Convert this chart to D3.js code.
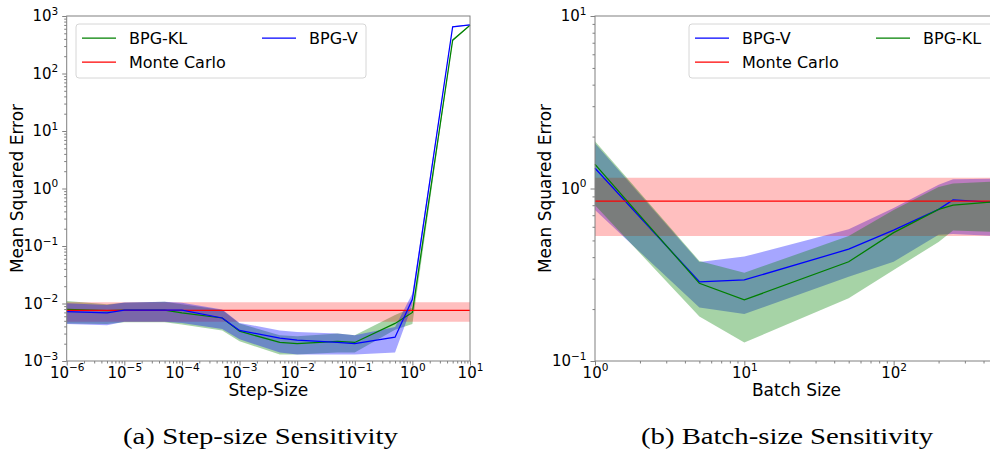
<!DOCTYPE html>
<html>
<head>
<meta charset="utf-8">
<style>
  body { margin: 0; background: #fff; }
  text { font-family: "DejaVu Sans", sans-serif; fill: #000; }
</style>
</head>
<body>
<svg width="990" height="453"></svg>
<script src="https://d3js.org/d3.v7.min.js"></script>
<script>

// (a) step-size sensitivity
var stepSizes = [1e-6, 5e-6, 1e-5, 5e-5, 1e-4, 5e-4, 1e-3, 5e-3, 1e-2, 5e-2, 1e-1, 5e-1, 1, 5, 10];
var stepKL    = [0.0079, 0.0075, 0.0077, 0.0077, 0.0069, 0.0056, 0.0033, 0.0021, 0.0020, 0.0022, 0.0021, 0.0045, 0.0070, 380, 690];
var stepKLLo  = [0.0045, 0.0044, 0.0047, 0.0047, 0.0043, 0.0034, 0.0022, 0.0013, 0.0013, 0.0014, 0.0014, 0.0035, 0.0044, 365, 680];
var stepKLHi  = [0.0110, 0.0097, 0.0103, 0.0107, 0.0097, 0.0077, 0.0045, 0.0028, 0.0027, 0.0030, 0.0028, 0.0063, 0.0085, 395, 700];
var stepV     = [0.0072, 0.0069, 0.0077, 0.0077, 0.0077, 0.0056, 0.0034, 0.0025, 0.0023, 0.0021, 0.0020, 0.0026, 0.0118, 650, 700];
var stepVLo   = [0.0044, 0.0042, 0.0048, 0.0048, 0.0046, 0.0036, 0.0024, 0.0014, 0.0013, 0.0013, 0.0013, 0.0014, 0.0095, 635, 690];
var stepVHi   = [0.0101, 0.0094, 0.0104, 0.0107, 0.0103, 0.0079, 0.0046, 0.0034, 0.0032, 0.0030, 0.0028, 0.0039, 0.0150, 665, 710];
var stepMC = 0.0076, stepMCLo = 0.0048, stepMCHi = 0.0105;

// (b) batch-size sensitivity
var batchSizes = [1, 5, 10, 50, 100, 200, 250, 500];
var batchV     = [1.31, 0.288, 0.295, 0.445, 0.574, 0.757, 0.858, 0.83];
var batchVLo   = [0.75, 0.204, 0.187, 0.308, 0.376, 0.54, 0.545, 0.53];
var batchVHi   = [1.83, 0.375, 0.403, 0.58, 0.77, 1.05, 1.13, 1.14];
var batchKL    = [1.38, 0.282, 0.226, 0.376, 0.555, 0.757, 0.80, 0.84];
var batchKLLo  = [0.80, 0.181, 0.128, 0.231, 0.337, 0.49, 0.57, 0.56];
var batchKLHi  = [1.88, 0.38, 0.325, 0.53, 0.75, 1.02, 1.07, 1.10];
var batchMC = 0.846, batchMCLo = 0.531, batchMCHi = 1.155;

var stepTicksX = [1e-6, 1e-5, 1e-4, 1e-3, 1e-2, 1e-1, 1, 10];
var stepTicksY = [1e-3, 1e-2, 1e-1, 1, 10, 100, 1000];
var batchTicksX = [1, 10, 100];
var batchTicksY = [0.1, 1, 10];

var GREEN = "#008000", BLUE = "#0000ff", RED = "#ff0000";

var svg = d3.select("svg");

function minorTicks(domain) {
  var out = [];
  var lo = Math.floor(Math.log10(domain[0])), hi = Math.ceil(Math.log10(domain[1]));
  for (var e = lo; e < hi; e++)
    for (var m = 2; m <= 9; m++) {
      var v = m * Math.pow(10, e);
      if (v > domain[0] && v < domain[1]) out.push(v);
    }
  return out;
}

function powLabels(sel) {
  sel.selectAll(".tick text").each(function(d) {
    var e = Math.round(Math.log10(d));
    var t = d3.select(this).text(null);
    t.append("tspan").text("10");
    t.append("tspan").attr("dy", "-0.62em").attr("font-size", "10.5px")
      .text(e < 0 ? "\u2212" + (-e) : e);
  });
}

function panel(cfg) {
  var x = d3.scaleLog().domain(cfg.xDomain).range([cfg.left, cfg.right]);
  var y = d3.scaleLog().domain(cfg.yDomain).range([cfg.bottom, cfg.top]);
  var g = svg.append("g");

  var band = d3.area()
      .x(function(d) { return x(d.x); })
      .y0(function(d) { return y(d.lo); })
      .y1(function(d) { return y(d.hi); });
  var line = d3.line()
      .x(function(d) { return x(d.x); })
      .y(function(d) { return y(d.v); });

  // fills first, then lines (matplotlib zorder)
  cfg.series.forEach(function(s) {
    var pts = s.xs.map(function(xv, i) { return {x: xv, v: s.mean[i], lo: s.lo[i], hi: s.hi[i]}; });
    s.pts = pts;
    g.append("path").datum(pts)
        .attr("fill", s.color).attr("fill-opacity", s.alpha)
        .attr("d", band);
  });
  cfg.series.forEach(function(s) {
    g.append("path").datum(s.pts)
        .attr("fill", "none").attr("stroke", s.color).attr("stroke-width", 1.25)
        .attr("d", line);
  });

  // frame
  g.append("rect")
      .attr("x", cfg.left).attr("y", cfg.top)
      .attr("width", cfg.right - cfg.left).attr("height", cfg.bottom - cfg.top)
      .attr("fill", "none").attr("stroke", "#808080").attr("stroke-width", 1);

  // axes
  var xMinor = g.append("g").attr("transform", "translate(0," + cfg.bottom + ")")
      .call(d3.axisBottom(x).tickValues(minorTicks(cfg.xDomain)).tickSize(2.5).tickFormat(""));
  var xMajor = g.append("g").attr("transform", "translate(0," + cfg.bottom + ")")
      .call(d3.axisBottom(x).tickValues(cfg.xTicks).tickSize(4.5).tickPadding(3));
  var yMinor = g.append("g").attr("transform", "translate(" + cfg.left + ",0)")
      .call(d3.axisLeft(y).tickValues(minorTicks(cfg.yDomain)).tickSize(2.5).tickFormat(""));
  var yMajor = g.append("g").attr("transform", "translate(" + cfg.left + ",0)")
      .call(d3.axisLeft(y).tickValues(cfg.yTicks).tickSize(4.5).tickPadding(4));

  [xMinor, xMajor, yMinor, yMajor].forEach(function(a) {
    a.select(".domain").remove();
    a.selectAll(".tick line").attr("stroke", "#808080");
    a.selectAll(".tick text").attr("font-size", "15px").attr("font-family", "DejaVu Sans").attr("fill", "#000");
  });
  xMajor.selectAll(".tick text").attr("dy", null).attr("y", 16.5);
  powLabels(xMajor);
  powLabels(yMajor);

  g.append("text")
      .attr("x", (cfg.left + cfg.right) / 2).attr("y", 396)
      .attr("text-anchor", "middle").attr("font-size", "17px")
      .text(cfg.xLabel);
  g.append("text")
      .attr("transform", "translate(" + (cfg.left - 44) + "," + ((cfg.top + cfg.bottom) / 2) + ") rotate(-90)")
      .attr("text-anchor", "middle").attr("font-size", "17px")
      .text("Mean Squared Error");

  // legend
  var L = cfg.legend;
  var lg = g.append("g");
  lg.append("rect")
      .attr("x", L.x).attr("y", L.y).attr("width", L.w).attr("height", 54)
      .attr("rx", 3).attr("fill", "#fff").attr("fill-opacity", 0.8)
      .attr("stroke", "#d6d6d6");
  L.items.forEach(function(it) {
    var ly = L.y + 14 + it.row * 24;
    lg.append("line")
        .attr("x1", it.x).attr("x2", it.x + 34).attr("y1", ly).attr("y2", ly)
        .attr("stroke", it.color).attr("stroke-width", 1.25);
    lg.append("text")
        .attr("x", it.x + 47).attr("y", ly + 6)
        .attr("font-size", "16px")
        .text(it.label);
  });

  svg.append("text")
      .attr("x", cfg.caption.x).attr("y", 444)
      .attr("text-anchor", "middle")
      .attr("font-size", "24px")
      .attr("textLength", cfg.caption.w).attr("lengthAdjust", "spacingAndGlyphs")
      .style("font-family", "'Liberation Serif', serif")
      .text(cfg.caption.text);
}

function mcSeries(xs, v, lo, hi) {
  var ends = [xs[0], xs[xs.length - 1]];
  return {xs: ends, mean: [v, v], lo: [lo, lo], hi: [hi, hi], color: RED, alpha: 0.25};
}

panel({
  left: 66.7, right: 470, top: 16, bottom: 361,
  xDomain: [1e-6, 10], yDomain: [1e-3, 1e3],
  xTicks: stepTicksX, yTicks: stepTicksY,
  xLabel: "Step-Size",
  series: [
    {xs: stepSizes, mean: stepKL, lo: stepKLLo, hi: stepKLHi, color: GREEN, alpha: 0.35},
    mcSeries(stepSizes, stepMC, stepMCLo, stepMCHi),
    {xs: stepSizes, mean: stepV, lo: stepVLo, hi: stepVHi, color: BLUE, alpha: 0.35}
  ],
  legend: {x: 76, y: 24, w: 290, items: [
    {x: 82, row: 0, color: GREEN, label: "BPG-KL"},
    {x: 82, row: 1, color: RED, label: "Monte Carlo"},
    {x: 262, row: 0, color: BLUE, label: "BPG-V"}
  ]},
  caption: {x: 260.5, w: 275, text: "(a) Step-size Sensitivity"}
});

panel({
  left: 595, right: 998, top: 16, bottom: 361,
  xDomain: [1, 500], yDomain: [0.1, 10],
  xTicks: batchTicksX, yTicks: batchTicksY,
  xLabel: "Batch Size",
  series: [
    {xs: batchSizes, mean: batchV, lo: batchVLo, hi: batchVHi, color: BLUE, alpha: 0.35},
    mcSeries(batchSizes, batchMC, batchMCLo, batchMCHi),
    {xs: batchSizes, mean: batchKL, lo: batchKLLo, hi: batchKLHi, color: GREEN, alpha: 0.35}
  ],
  legend: {x: 689, y: 24, w: 306, items: [
    {x: 695, row: 0, color: BLUE, label: "BPG-V"},
    {x: 695, row: 1, color: RED, label: "Monte Carlo"},
    {x: 876, row: 0, color: GREEN, label: "BPG-KL"}
  ]},
  caption: {x: 787, w: 292, text: "(b) Batch-size Sensitivity"}
});

</script>
</body>
</html>
